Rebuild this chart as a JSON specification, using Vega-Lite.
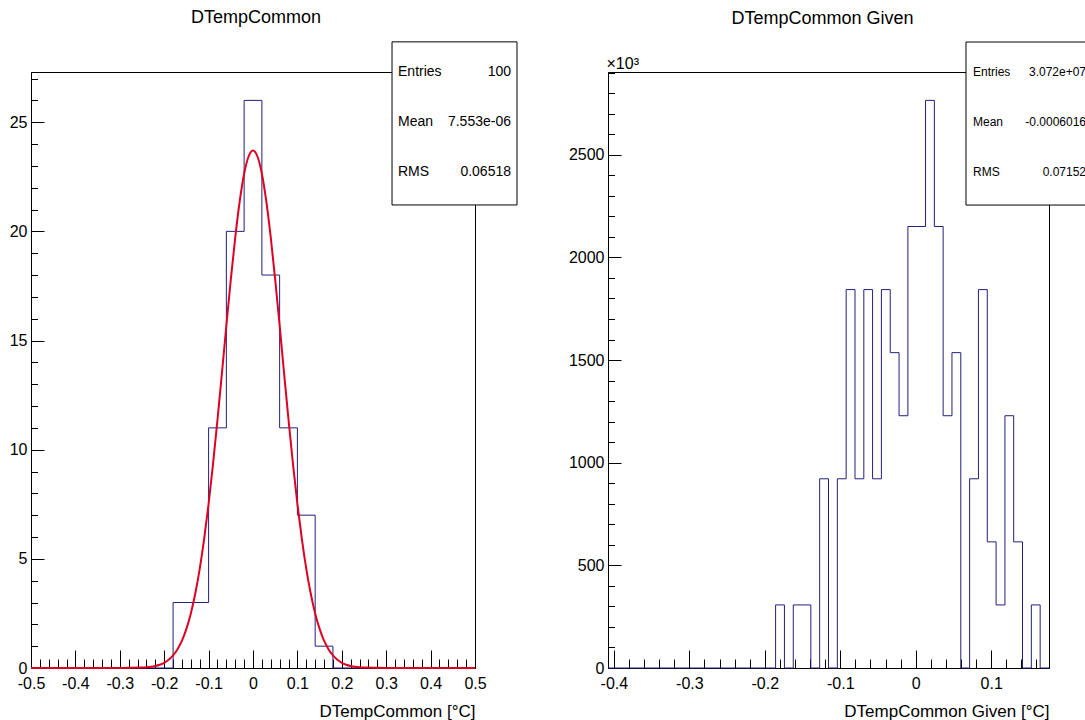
{
  "$schema": "https://vega.github.io/schema/vega-lite/v6.json",
  "background": "white",
  "padding": {"left": 8, "top": 8, "right": 0, "bottom": 0},
  "bounds": "flush",
  "spacing": 133,
  "config": {
    "font": "Liberation Sans",
    "view": {"stroke": "black", "strokeWidth": 1},
    "axis": {
      "grid": false,
      "domainColor": "black",
      "tickColor": "black",
      "labelColor": "black",
      "titleColor": "black",
      "labelFont": "Liberation Sans",
      "titleFont": "Liberation Sans",
      "labelFontSize": 16,
      "titleFontSize": 17,
      "titleFontWeight": "normal",
      "domainWidth": 1,
      "tickWidth": 1,
      "labelOverlap": false,
      "labelFlush": false,
      "labelBound": false
    },
    "title": {"font": "Liberation Sans", "fontSize": 18, "fontWeight": "normal", "color": "black", "anchor": "middle", "frame": "group"}
  },
  "datasets": {
    "left_hist": [
      {"x": -0.5, "n": 0}, {"x": -0.18, "n": 3}, {"x": -0.14, "n": 3}, {"x": -0.1, "n": 11},
      {"x": -0.06, "n": 20}, {"x": -0.02, "n": 26}, {"x": 0.02, "n": 18}, {"x": 0.06, "n": 11},
      {"x": 0.1, "n": 7}, {"x": 0.14, "n": 1}, {"x": 0.18, "n": 0}, {"x": 0.5, "n": 0}
    ],
    "left_fit": [
      {"x": -0.5, "f": 0}, {"x": -0.3, "f": 0.0005}, {"x": -0.25, "f": 0.018}, {"x": -0.24, "f": 0.032},
      {"x": -0.23, "f": 0.055}, {"x": -0.22, "f": 0.092}, {"x": -0.21, "f": 0.15}, {"x": -0.2, "f": 0.24},
      {"x": -0.19, "f": 0.376}, {"x": -0.18, "f": 0.575}, {"x": -0.17, "f": 0.86}, {"x": -0.16, "f": 1.25},
      {"x": -0.15, "f": 1.79}, {"x": -0.14, "f": 2.5}, {"x": -0.13, "f": 3.41}, {"x": -0.12, "f": 4.54},
      {"x": -0.11, "f": 5.91}, {"x": -0.1, "f": 7.52}, {"x": -0.09, "f": 9.35}, {"x": -0.08, "f": 11.37},
      {"x": -0.07, "f": 13.5}, {"x": -0.06, "f": 15.68}, {"x": -0.05, "f": 17.79}, {"x": -0.04, "f": 19.72},
      {"x": -0.03, "f": 21.37}, {"x": -0.02, "f": 22.64}, {"x": -0.01, "f": 23.43}, {"x": 0, "f": 23.7},
      {"x": 0.01, "f": 23.43}, {"x": 0.02, "f": 22.64}, {"x": 0.03, "f": 21.37}, {"x": 0.04, "f": 19.72},
      {"x": 0.05, "f": 17.79}, {"x": 0.06, "f": 15.68}, {"x": 0.07, "f": 13.5}, {"x": 0.08, "f": 11.37},
      {"x": 0.09, "f": 9.35}, {"x": 0.1, "f": 7.52}, {"x": 0.11, "f": 5.91}, {"x": 0.12, "f": 4.54},
      {"x": 0.13, "f": 3.41}, {"x": 0.14, "f": 2.5}, {"x": 0.15, "f": 1.79}, {"x": 0.16, "f": 1.25},
      {"x": 0.17, "f": 0.86}, {"x": 0.18, "f": 0.575}, {"x": 0.19, "f": 0.376}, {"x": 0.2, "f": 0.24},
      {"x": 0.21, "f": 0.15}, {"x": 0.22, "f": 0.092}, {"x": 0.23, "f": 0.055}, {"x": 0.24, "f": 0.032},
      {"x": 0.25, "f": 0.018}, {"x": 0.3, "f": 0.0005}, {"x": 0.5, "f": 0}
    ],
    "right_hist": [
      {"x": -0.4078, "y": 0}, {"x": -0.1857, "y": 307.2}, {"x": -0.174, "y": 0}, {"x": -0.1623, "y": 307.2},
      {"x": -0.1506, "y": 307.2}, {"x": -0.139, "y": 0}, {"x": -0.1273, "y": 921.6}, {"x": -0.1156, "y": 0},
      {"x": -0.1039, "y": 921.6}, {"x": -0.0922, "y": 1843.2}, {"x": -0.0805, "y": 921.6}, {"x": -0.0688, "y": 1843.2},
      {"x": -0.0572, "y": 921.6}, {"x": -0.0455, "y": 1843.2}, {"x": -0.0338, "y": 1536}, {"x": -0.0221, "y": 1228.8},
      {"x": -0.0104, "y": 2150.4}, {"x": 0.0013, "y": 2150.4}, {"x": 0.013, "y": 2764.8}, {"x": 0.0247, "y": 2150.4},
      {"x": 0.0363, "y": 1228.8}, {"x": 0.048, "y": 1536}, {"x": 0.0597, "y": 0}, {"x": 0.0714, "y": 921.6},
      {"x": 0.0831, "y": 1843.2}, {"x": 0.0948, "y": 614.4}, {"x": 0.1065, "y": 307.2}, {"x": 0.1182, "y": 1228.8},
      {"x": 0.1298, "y": 614.4}, {"x": 0.1415, "y": 0}, {"x": 0.1532, "y": 307.2}, {"x": 0.1649, "y": 0},
      {"x": 0.1766, "y": 0}
    ],
    "left_stats": [
      {"labels": ["Entries", "Mean", "RMS"], "values": ["100", "7.553e-06", "0.06518"]}
    ],
    "right_stats": [
      {"labels": ["Entries", "Mean", "RMS"], "values": ["3.072e+07", "-0.0006016", "0.07152"]}
    ]
  },
  "hconcat": [
    {
      "width": 444,
      "height": 596,
      "title": {"text": "DTempCommon", "offset": 14, "dx": 3},
      "layer": [
        {
          "data": {"name": "left_hist"},
          "mark": {"type": "line", "interpolate": "step-after", "color": "#20207a", "strokeWidth": 1},
          "encoding": {
            "x": {
              "field": "x", "type": "quantitative",
              "scale": {"domain": [-0.5, 0.5], "nice": false, "zero": false},
              "axis": {
                "values": [-0.5,-0.48,-0.46,-0.44,-0.42,-0.4,-0.38,-0.36,-0.34,-0.32,-0.3,-0.28,-0.26,-0.24,-0.22,-0.2,-0.18,-0.16,-0.14,-0.12,-0.1,-0.08,-0.06,-0.04,-0.02,0,0.02,0.04,0.06,0.08,0.1,0.12,0.14,0.16,0.18,0.2,0.22,0.24,0.26,0.28,0.3,0.32,0.34,0.36,0.38,0.4,0.42,0.44,0.46,0.48,0.5],
                "tickCount": 200,
                "labelExpr": "abs(datum.value*10 - round(datum.value*10)) < 0.001 ? replace(format(datum.value, '.1~f'), '\u2212', '-') : ''",
                "tickSize": {"condition": {"test": "abs(datum.value*10 - round(datum.value*10)) < 0.001", "value": -18}, "value": -9},
                "labelOverlap": false,
                "labelPadding": 25.5,
                "title": "DTempCommon [°C]",
                "titleAnchor": "end",
                "titlePadding": 3
              }
            },
            "y": {
              "field": "n", "type": "quantitative",
              "scale": {"domain": [0, 27.3], "nice": false},
              "axis": {
                "values": [0,1,2,3,4,5,6,7,8,9,10,11,12,13,14,15,16,17,18,19,20,21,22,23,24,25,26,27],
                "tickCount": 200,
                "labelExpr": "datum.value % 5 === 0 ? format(datum.value, 'd') : ''",
                "tickSize": {"condition": {"test": "datum.value % 5 === 0", "value": -13}, "value": -6.5},
                "labelOverlap": false,
                "labelPadding": 17,
                "title": null
              }
            }
          }
        },
        {
          "data": {"name": "left_fit"},
          "mark": {"type": "line", "interpolate": "monotone", "color": "#dd0022", "strokeWidth": 2},
          "encoding": {
            "x": {"field": "x", "type": "quantitative"},
            "y": {"field": "f", "type": "quantitative"}
          }
        },
        {
          "data": {"name": "left_stats"},
          "mark": {"type": "rect", "fill": "white", "stroke": "black", "strokeWidth": 1, "clip": false},
          "encoding": {
            "x": {"datum": 0.3131}, "x2": {"datum": 0.5946},
            "y": {"datum": 28.68}, "y2": {"datum": 21.21}
          }
        },
        {
          "data": {"name": "left_stats"},
          "mark": {"type": "text", "align": "left", "baseline": "middle", "fontSize": 14, "lineHeight": 50, "color": "black", "clip": false},
          "encoding": {
            "x": {"datum": 0.3266}, "y": {"datum": 27.3},
            "text": {"field": "labels"}
          }
        },
        {
          "data": {"name": "left_stats"},
          "mark": {"type": "text", "align": "right", "baseline": "middle", "fontSize": 14, "lineHeight": 50, "color": "black", "clip": false},
          "encoding": {
            "x": {"datum": 0.5811}, "y": {"datum": 27.3},
            "text": {"field": "values"}
          }
        }
      ]
    },
    {
      "width": 441,
      "height": 596,
      "title": {"text": "DTempCommon Given", "offset": 14, "dx": -6},
      "layer": [
        {
          "data": {"name": "right_hist"},
          "mark": {"type": "line", "interpolate": "step-after", "color": "#20207a", "strokeWidth": 1},
          "encoding": {
            "x": {
              "field": "x", "type": "quantitative",
              "scale": {"domain": [-0.4078, 0.1766], "nice": false, "zero": false},
              "axis": {
                "values": [-0.4,-0.38,-0.36,-0.34,-0.32,-0.3,-0.28,-0.26,-0.24,-0.22,-0.2,-0.18,-0.16,-0.14,-0.12,-0.1,-0.08,-0.06,-0.04,-0.02,0,0.02,0.04,0.06,0.08,0.1,0.12,0.14,0.16],
                "tickCount": 200,
                "labelExpr": "abs(datum.value*10 - round(datum.value*10)) < 0.001 ? replace(format(datum.value, '.1~f'), '\u2212', '-') : ''",
                "tickSize": {"condition": {"test": "abs(datum.value*10 - round(datum.value*10)) < 0.001", "value": -18}, "value": -9},
                "labelOverlap": false,
                "labelPadding": 25.5,
                "title": "DTempCommon Given [°C]",
                "titleAnchor": "end",
                "titlePadding": 3
              }
            },
            "y": {
              "field": "y", "type": "quantitative",
              "scale": {"domain": [0, 2903], "nice": false},
              "axis": {
                "values": [0,100,200,300,400,500,600,700,800,900,1000,1100,1200,1300,1400,1500,1600,1700,1800,1900,2000,2100,2200,2300,2400,2500,2600,2700,2800,2900],
                "tickCount": 200,
                "labelExpr": "datum.value % 500 === 0 ? format(datum.value, 'd') : ''",
                "tickSize": {"condition": {"test": "datum.value % 500 === 0", "value": -13}, "value": -6.5},
                "labelOverlap": false,
                "labelPadding": 17,
                "title": "×10³",
                "titleAngle": 0,
                "titleAlign": "left",
                "titleBaseline": "alphabetic",
                "titleFontSize": 16,
                "titleX": -2,
                "titleY": -4
              }
            }
          }
        },
        {
          "data": {"name": "right_stats"},
          "mark": {"type": "rect", "fill": "white", "stroke": "black", "strokeWidth": 1, "clip": false},
          "encoding": {
            "x": {"datum": 0.0666}, "x2": {"datum": 0.2349},
            "y": {"datum": 3049}, "y2": {"datum": 2255}
          }
        },
        {
          "data": {"name": "right_stats"},
          "mark": {"type": "text", "align": "left", "baseline": "middle", "fontSize": 12, "lineHeight": 50, "color": "black", "clip": false},
          "encoding": {
            "x": {"datum": 0.0759}, "y": {"datum": 2903},
            "text": {"field": "labels"}
          }
        },
        {
          "data": {"name": "right_stats"},
          "mark": {"type": "text", "align": "right", "baseline": "middle", "fontSize": 12, "lineHeight": 50, "color": "black", "clip": false},
          "encoding": {
            "x": {"datum": 0.2257}, "y": {"datum": 2903},
            "text": {"field": "values"}
          }
        }
      ]
    }
  ]
}
